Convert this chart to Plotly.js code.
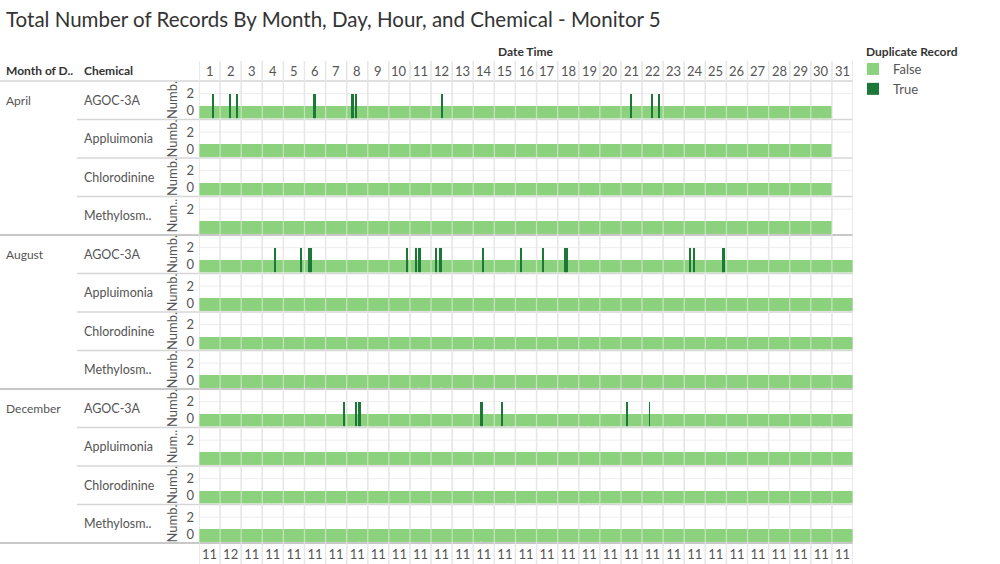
<!DOCTYPE html>
<html><head><meta charset="utf-8">
<script src="https://cdn.plot.ly/plotly-3.0.1.min.js"></script>
<style>html,body{margin:0;padding:0;background:#fff}#chart{width:1000px;height:564px}</style>
</head><body><div id="chart"></div>
<script>
// ---------------- data ----------------
const months = ['April', 'August', 'December'];
const monthDays = [30, 31, 31];
const chemicals = ['AGOC-3A', 'Appluimonia', 'Chlorodinine', 'Methylosm..'];
const dayLabels = ['1','2','3','4','5','6','7','8','9','10','11','12','13','14','15','16','17','18','19','20','21','22','23','24','25','26','27','28','29','30','31'];
const hourTickLabels = ['11','12','11','11','11','11','11','11','11','11','11','11','11','11','11','11','11','11','11','11','11','11','11','11','11','11','11','11','11','11','11'];
const axisTitles = ['Numb.','Numb.','Numb.','Num..','Numb.','Numb.','Numb.','Numb.','Numb.','Num..','Numb.','Numb.'];
const falseCount = 1;      // regular record per hour
const trueCount = 2;       // duplicated hour: both records flagged True
// duplicate (True) hours: [day, hour]
const dupAprilAGOC = [[1,15],[2,11],[2,19],[6,10],[6,11],[8,5],[8,6],[8,7],[8,10],[12,12],[21,11],[22,11],[22,19]];
const dupAugustAGOC = [[4,14],[5,20],[6,5],[6,6],[6,7],[10,20],[11,6],[11,10],[11,11],[12,5],[12,10],[12,11],[14,11],[16,6],[17,7],[18,8],[18,9],[18,10],[24,6],[24,11],[25,19],[25,20],[25,21]];
const dupDecemberAGOC = [[7,20],[8,10],[8,14],[8,15],[14,8],[14,9],[15,8],[21,6],[22,8]];
// hours without any record: [day, hour]
const missingAugustMethyl = [[6,5],[11,10],[12,11],[18,9],[25,20]];
const missingDecemberMethyl = [[8,14],[14,8]];

const duplicates = {'April|AGOC-3A': dupAprilAGOC, 'August|AGOC-3A': dupAugustAGOC, 'December|AGOC-3A': dupDecemberAGOC};
const missing = {'August|Methylosm..': missingAugustMethyl, 'December|Methylosm..': missingDecemberMethyl};

// ---------------- geometry / style ----------------
const W = 1000, H = 564;
const Lm = 199, Rm = 853, Tm = 81, Bm = 543;
const PW = Rm - Lm, PH = Bm - Tm;
const px = p => (p - Lm) / PW;
const py = p => (Bm - p) / PH;
const LIGHT = '#8cd17d', DARK = '#1b7837';
const FONT = 'Lato, "Open Sans", sans-serif';
const TXT = '#555555';
const rowH = PH / 12;
const HOURS = 24;

const traces = [];
const layout = {
  width: W, height: H,
  margin: {l: Lm, r: W - Rm, t: Tm, b: H - Bm, pad: 0},
  paper_bgcolor: '#ffffff', plot_bgcolor: 'rgba(0,0,0,0)',
  font: {family: FONT, color: TXT, size: 12},
  barmode: 'overlay', bargap: 0,
  showlegend: true,
  legend: {x: px(853), y: py(54), xanchor: 'left', yanchor: 'top', font: {size: 13, color: TXT},
           bgcolor: 'rgba(0,0,0,0)', tracegroupgap: 0, itemclick: false},
  title: {text: 'Total Number of Records By Month, Day, Hour, and Chemical - Monitor 5',
          xref: 'container', yref: 'container', x: 6 / W, xanchor: 'left', y: 1 - 20 / H, yanchor: 'middle',
          font: {size: 20.5, color: '#333333', family: FONT}},
  xaxis: {range: [0, dayLabels.length * HOURS], anchor: 'y12', showgrid: false, zeroline: false, showline: false,
          tickmode: 'array', tickvals: dayLabels.map((d, i) => i * HOURS + HOURS / 2), ticktext: hourTickLabels,
          ticks: '', ticklabelstandoff: 3, tickfont: {size: 13, color: TXT}, fixedrange: true},
  shapes: [], annotations: []
};

let r = 0;
months.forEach((m, mi) => {
  chemicals.forEach((c, ci) => {
    const yid = r === 0 ? 'y' : 'y' + (r + 1);
    const yname = r === 0 ? 'yaxis' : 'yaxis' + (r + 1);
    const key = m + '|' + c;
    const dups = duplicates[key] || [];
    const miss = missing[key] || [];
    const skip = new Set(dups.concat(miss).map(p => p[0] + ':' + p[1]));
    const fx = [], fy = [];
    for (let d = 1; d <= monthDays[mi]; d++) {
      for (let h = 0; h < HOURS; h++) {
        if (skip.has(d + ':' + h)) continue;
        fx.push((d - 1) * HOURS + h + 0.5); fy.push(falseCount);
      }
    }
    traces.push({type: 'bar', x: fx, y: fy, width: 1, xaxis: 'x', yaxis: yid, name: 'False',
                 legendgroup: 'F', showlegend: r === 0, marker: {color: LIGHT, line: {width: 0}}, hoverinfo: 'skip'});
    if (dups.length) {
      traces.push({type: 'bar', x: dups.map(p => (p[0] - 1) * HOURS + p[1] + 0.5), y: dups.map(() => trueCount),
                   width: 1, xaxis: 'x', yaxis: yid, name: 'True', legendgroup: 'T', showlegend: r === 0,
                   marker: {color: DARK, line: {width: 0}}, hoverinfo: 'skip'});
    }
    const topPx = Tm + r * rowH + 0.8, botPx = Tm + (r + 1) * rowH - 1.2;
    const noZero = axisTitles[r] === 'Num..';
    layout[yname] = {domain: [py(botPx), py(topPx)], range: [0, 2.96], anchor: 'x',
      showgrid: false, zeroline: false, showline: false, fixedrange: true, ticks: '',
      tickmode: 'array', tickvals: noZero ? [2] : [0.6, 2], ticktext: noZero ? ['2'] : ['0', '2'],
      ticklabelstandoff: 4, tickfont: {size: 13, color: TXT}, automargin: false,
      title: {text: axisTitles[r], standoff: 5, font: {size: 13, color: TXT}}};
    // faint reference line at value 2
    layout.shapes.push({type: 'line', xref: 'paper', yref: yid, x0: 0, x1: 1, y0: 2, y1: 2,
                        line: {color: '#ededed', width: 1}, layer: 'below'});
    const cy = py(Tm + (r + 0.5) * rowH);
    layout.annotations.push({text: c, xref: 'paper', yref: 'paper', x: px(82), y: cy, xanchor: 'left', yanchor: 'middle',
                             showarrow: false, font: {size: 12.5, color: TXT}});
    if (ci === 0) {
      layout.annotations.push({text: m, xref: 'paper', yref: 'paper', x: px(4), y: cy, xanchor: 'left', yanchor: 'middle',
                               showarrow: false, font: {size: 12, color: TXT}});
    }
    r++;
  });
});

// row separators
for (let k = 0; k <= 12; k++) {
  const yy = py(Tm + k * rowH);
  const isMonth = (k % 4 === 0 && k > 0);
  const x0 = (k === 0 || isMonth) ? px(0) : px(77);
  layout.shapes.push({type: 'line', xref: 'paper', yref: 'paper', x0: x0, x1: 1, y0: yy, y1: yy,
                      line: {color: isMonth ? '#c8c8c8' : '#d6d6d6', width: isMonth ? 2 : 1.5}, layer: 'above'});
}
// day column separators
for (let d = 0; d <= dayLabels.length; d++) {
  layout.shapes.push({type: 'line', xref: 'x', yref: 'paper', x0: d * HOURS, x1: d * HOURS, y0: py(H), y1: py(61),
                      line: {color: '#d3d3d3', width: 1.3}, layer: 'below'});
  layout.shapes.push({type: 'line', xref: 'x', yref: 'paper', x0: d * HOURS, x1: d * HOURS, y0: py(H), y1: py(61),
                      line: {color: 'rgba(255,255,255,0.45)', width: 1.3}, layer: 'above'});
}
// day header labels
dayLabels.forEach((d, i) => {
  layout.annotations.push({text: d, xref: 'x', yref: 'paper', x: i * HOURS + HOURS / 2, y: py(71), yanchor: 'middle',
                           showarrow: false, font: {size: 13, color: TXT}});
});
// headers
layout.annotations.push({text: '<b>Date Time</b>', xref: 'paper', yref: 'paper', x: px(526), y: py(51), yanchor: 'middle',
                         showarrow: false, font: {size: 12, color: '#333333'}});
layout.annotations.push({text: '<b>Month of D..</b>', xref: 'paper', yref: 'paper', x: px(4), y: py(71), xanchor: 'left', yanchor: 'middle',
                         showarrow: false, font: {size: 12, color: '#333333'}});
layout.annotations.push({text: '<b>Chemical</b>', xref: 'paper', yref: 'paper', x: px(82), y: py(71), xanchor: 'left', yanchor: 'middle',
                         showarrow: false, font: {size: 12, color: '#333333'}});
layout.annotations.push({text: '<b>Duplicate Record</b>', xref: 'paper', yref: 'paper', x: px(864), y: py(51), xanchor: 'left', yanchor: 'middle',
                         showarrow: false, font: {size: 12, color: '#333333'}});

Plotly.newPlot('chart', traces, layout, {displayModeBar: false, responsive: false});
</script></body></html>
